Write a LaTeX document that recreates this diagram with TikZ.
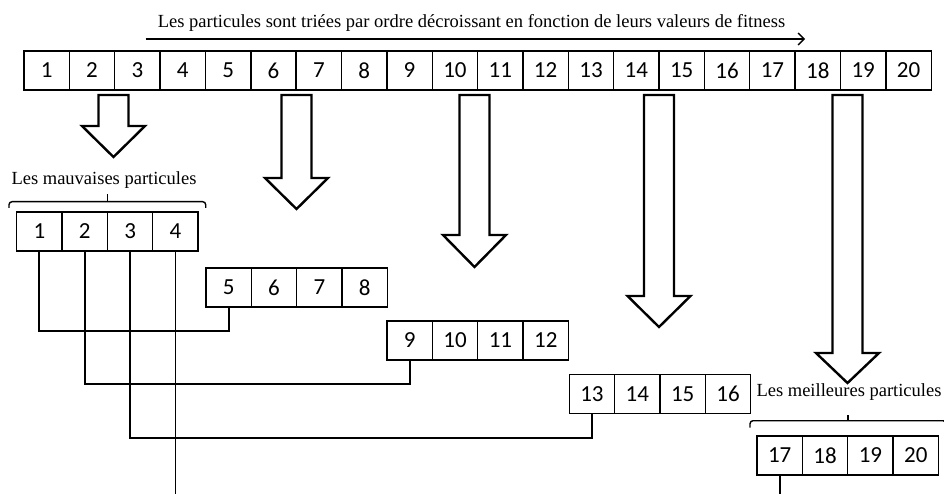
\documentclass[tikz,border=0pt]{standalone}
\usepackage{fontspec}
\setmainfont{Liberation Serif}
\newfontfamily\cellfont[Numbers={Lining,Monospaced}]{Carlito}
\usetikzlibrary{arrows.meta,calc}
\newcommand\hollowdown[3]{% center x, head base y, tip y
  \draw[hollow] (#1-15,95) -- (#1+15,95) -- (#1+15,#2) -- (#1+31.5,#2) -- (#1,#3) -- (#1-31.5,#2) -- (#1-15,#2) -- cycle;}
\tikzset{
  cell/.style={draw, line width=1.4pt, minimum width=45.36pt, minimum height=39pt, inner sep=0pt,
    font=\cellfont\fontsize{23}{27}\selectfont},
  lbl/.style={font=\fontsize{18.5}{22}\selectfont, inner sep=0pt},
  conn/.style={line width=1.8pt},
  hollow/.style={line width=2.4pt, line join=miter},
  bracket/.style={line width=1.4pt, rounded corners=3pt}
}
\begin{document}
\begin{tikzpicture}[x=1pt,y=-1pt]
\useasboundingbox (0,0) rectangle (944,494);
% title and arrow
\node[lbl, anchor=base] (title) at (471.5,28) {Les particules sont triées par ordre décroissant en fonction de leurs valeurs de fitness};
\coordinate (ta) at (145.7,39);
\coordinate (tb) at (805,39);
\draw[line width=1.4pt, -{Straight Barb[length=6pt,width=12pt]}] (ta) -- (tb);
% top row
\foreach \i in {1,...,20}
  \node[cell] (t\i) at ({24+45.36*(\i-0.5)},70.5) {\i};
% hollow arrows
\hollowdown{113.5}{126}{157}
\hollowdown{296.5}{178}{209}
\hollowdown{474.5}{235}{267}
\hollowdown{659}{296}{327}
\hollowdown{847.5}{353}{383}
% groups
\foreach \i in {1,...,4}
  \node[cell] (g\i) at ({16.7+45.36*(\i-0.5)},231.5) {\i};
\foreach \i in {5,...,8}
  \node[cell] (g\i) at ({206+45.36*(\i-4.5)},287.5) {\i};
\foreach \i in {9,...,12}
  \node[cell] (g\i) at ({387+45.36*(\i-8.5)},340.5) {\i};
\foreach \i in {13,...,16}
  \node[cell] (g\i) at ({569.3+45.36*(\i-12.5)},394) {\i};
\foreach \i in {17,...,20}
  \node[cell] (g\i) at ({757+45.36*(\i-16.5)},455.5) {\i};
% labels and brackets
\node[lbl] (bad) at (104,180) {Les mauvaises particules};
\draw[bracket] (9,208) -- (9,201.7) -- (205.7,201.7) -- (205.7,208);
\draw[line width=1.4pt] (107.4,201.7) -- (107.4,194.5);
\node[lbl] (best) at (849,392) {Les meilleures particules};
\draw[bracket] (750,427.5) -- (750,420.7) -- (946,420.7) -- (946,427.5);
\draw[line width=1.4pt] (848,420.7) -- (848,414.5);
% connectors
\draw[conn] (g1.south) -- (g1.south |- 0,330.7) -| (g5.south);
\draw[conn] (g2.south) -- (g2.south |- 0,384) -| (g9.south);
\draw[conn] (g3.south) -- (g3.south |- 0,437.7) -| (g13.south);
\coordinate (e4) at ($(g4.south |- 0,494)+(0,2)$);
\draw[conn] (g4.south) -- (e4);
\coordinate (e17) at ($(g17.south |- 0,494)+(0,2)$);
\draw[conn] (g17.south) -- (e17);
\end{tikzpicture}
\end{document}
